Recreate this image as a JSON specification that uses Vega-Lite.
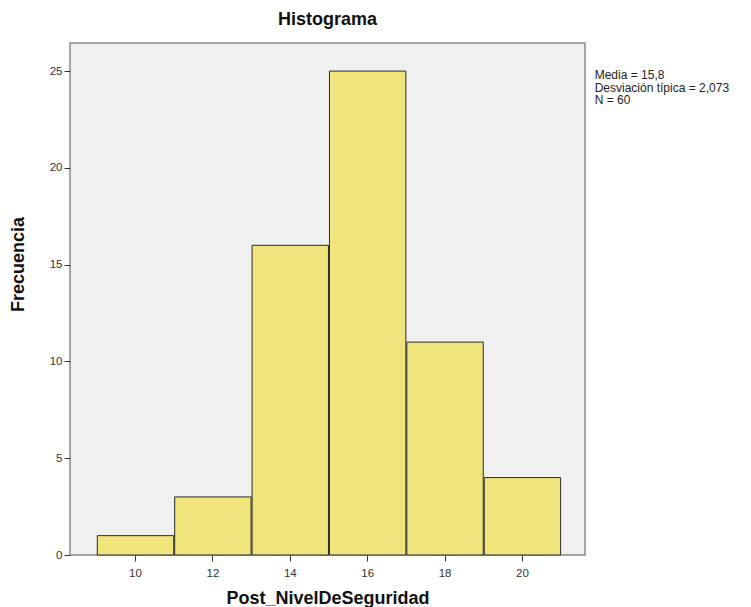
{
  "$schema": "https://vega.github.io/schema/vega-lite/v6.json",
  "autosize": {"type": "none"},
  "width": 515,
  "height": 512,
  "padding": {"left": 70, "top": 43, "right": 166, "bottom": 52},
  "background": "white",
  "config": {
    "font": "Liberation Sans",
    "view": {"stroke": "#8a8a8a", "strokeWidth": 1.5, "fill": "#f0f0f0"}
  },
  "title": {
    "text": "Histograma",
    "fontSize": 18,
    "fontWeight": "bold",
    "color": "#111",
    "offset": 14,
    "anchor": "middle"
  },
  "datasets": {
    "bins": [
      {"bin_start": 9, "bin_end": 11, "count": 1},
      {"bin_start": 11, "bin_end": 13, "count": 3},
      {"bin_start": 13, "bin_end": 15, "count": 16},
      {"bin_start": 15, "bin_end": 17, "count": 25},
      {"bin_start": 17, "bin_end": 19, "count": 11},
      {"bin_start": 19, "bin_end": 21, "count": 4}
    ],
    "stats": [
      {"text": "Media = 15,8\nDesviación típica = 2,073\nN = 60"}
    ]
  },
  "layer": [
    {
      "data": {"name": "bins"},
      "mark": {"type": "bar", "fill": "#f0e47c", "stroke": "#2a2a2a", "strokeWidth": 1},
      "encoding": {
        "x": {
          "field": "bin_start",
          "type": "quantitative",
          "bin": "binned",
          "scale": {"domain": [8.32, 21.63], "nice": false, "zero": false},
          "axis": {
            "title": "Post_NivelDeSeguridad",
            "values": [10, 12, 14, 16, 18, 20],
            "grid": false,
            "domain": false,
            "tickColor": "#333",
            "tickSize": 6,
            "labelFontSize": 11.5,
            "labelColor": "#333",
            "labelPadding": 6,
            "titleFontSize": 18,
            "titleFontWeight": "bold",
            "titleColor": "#111",
            "titlePadding": 11
          }
        },
        "x2": {"field": "bin_end"},
        "y": {
          "field": "count",
          "type": "quantitative",
          "scale": {"domain": [0, 26.45], "nice": false},
          "axis": {
            "title": "Frecuencia",
            "values": [0, 5, 10, 15, 20, 25],
            "grid": false,
            "domain": false,
            "tickColor": "#333",
            "tickSize": 6,
            "labelFontSize": 11.5,
            "labelColor": "#333",
            "labelPadding": 2,
            "titleFontSize": 18,
            "titleFontWeight": "bold",
            "titleColor": "#111",
            "titlePadding": 22,
            "titleY": 221
          }
        }
      }
    },
    {
      "data": {"name": "stats"},
      "mark": {
        "type": "text",
        "align": "left",
        "baseline": "top",
        "lineBreak": "\n",
        "lineHeight": 12.5,
        "fontSize": 12,
        "color": "#222"
      },
      "encoding": {
        "x": {"datum": 21.88, "type": "quantitative"},
        "y": {"datum": 25.05, "type": "quantitative"},
        "text": {"field": "text"}
      }
    }
  ]
}
